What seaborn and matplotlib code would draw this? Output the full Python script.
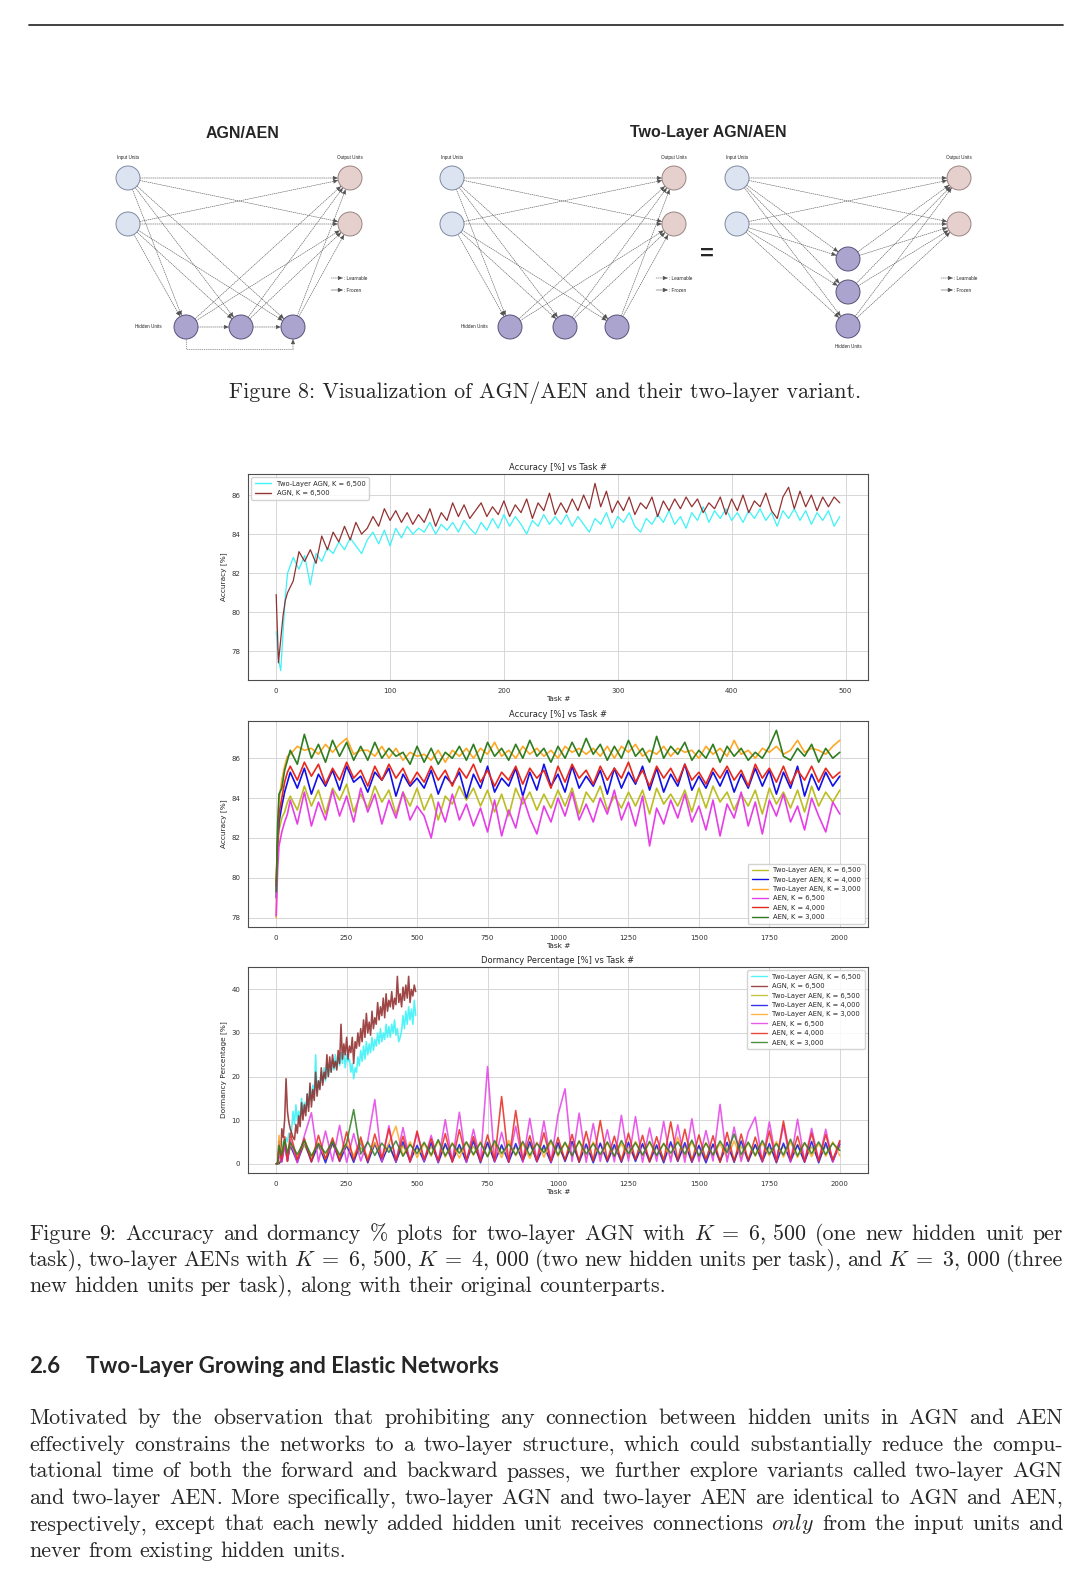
import re
import pandas as pd
import seaborn as sns
import matplotlib.pyplot as plt
from matplotlib.patches import Circle

# ---------------- data ----------------
TASKS_500 = [0, 2, 4, 6, 8] + list(range(10, 500, 5))
TASKS_2000 = [0, 5, 10, 20, 30, 40] + list(range(50, 2001, 25))

# Accuracy [%], first run of 500 tasks
ACC_TL_AGN = [79.0, 77.6, 77.0, 78.9, 80.8,
              82.0, 82.8, 82.2, 82.9, 81.4, 83.0, 82.6, 83.3, 83.0, 83.6,
              83.2, 83.8, 83.4, 83.0, 83.7, 84.1, 83.5, 84.2, 83.4, 84.3,
              83.8, 84.4, 84.0, 84.3, 84.1, 84.6, 84.0, 84.5, 84.2, 84.6,
              84.1, 84.7, 84.3, 84.0, 84.6, 84.2, 84.8, 84.3, 85.0, 84.4,
              84.9, 84.5, 84.0, 84.7, 84.4, 85.0, 84.5, 84.9, 84.5, 85.0,
              84.4, 84.9, 84.5, 84.1, 84.8, 84.5, 85.1, 84.3, 84.9, 84.6,
              85.1, 84.4, 84.1, 84.8, 84.5, 85.0, 84.6, 85.2, 84.5, 84.9,
              84.3, 85.1, 84.7, 85.4, 84.6, 85.2, 84.8, 85.3, 84.7, 85.1,
              84.6, 85.2, 84.8, 85.3, 84.7, 85.1, 84.4, 85.2, 84.8, 85.3,
              84.7, 85.2, 84.5, 85.1, 84.7, 85.2, 84.4, 84.9]
ACC_AGN = [80.9, 77.4, 78.6, 79.8, 80.6,
           81.0, 81.6, 83.1, 82.6, 83.2, 82.5, 83.9, 83.2, 84.1, 83.6,
           84.4, 83.7, 84.6, 84.0, 84.3, 84.9, 84.4, 85.3, 84.7, 85.2,
           84.6, 85.1, 84.5, 85.0, 84.6, 85.3, 84.4, 85.1, 84.7, 85.6,
           84.9, 85.5, 84.8, 85.2, 85.6, 84.9, 85.4, 85.0, 85.7, 84.9,
           85.5, 85.1, 85.8, 84.8, 85.6, 85.2, 86.1, 85.0, 85.6, 85.1,
           85.8, 85.2, 86.0, 85.3, 86.6, 85.4, 86.2, 85.1, 85.7, 85.2,
           85.9, 85.0, 85.6, 85.3, 85.9, 84.9, 85.7, 85.2, 85.8, 85.3,
           85.9, 85.4, 85.8, 85.1, 85.6, 85.3, 85.9, 85.0, 85.8, 85.2,
           86.0, 85.1, 85.7, 85.4, 86.1, 85.2, 84.8, 85.9, 86.4, 85.3,
           86.2, 85.4, 86.0, 85.2, 85.9, 85.4, 85.9, 85.6]

# Accuracy [%], 2000 tasks (rows: 0..100, then 125..200, 225..300, ...)
ACC_TL_AEN_6500 = [79.8, 81.5, 82.4, 83.0, 83.3, 83.8, 84.1, 83.4, 84.6,
                   83.6, 84.4, 83.2, 84.5, 83.9, 84.7, 83.3, 84.2,
                   83.5, 84.6, 83.8, 84.4, 83.2, 84.3, 83.6, 84.5,
                   83.4, 84.2, 82.9, 84.1, 83.7, 84.6, 83.9, 84.5,
                   83.6, 84.4, 83.3, 84.2, 83.1, 84.5, 83.7, 84.3,
                   83.4, 84.2, 83.5, 84.4, 83.6, 84.5, 83.2, 84.3,
                   83.8, 84.6, 83.4, 84.1, 83.5, 84.3, 83.6, 84.4,
                   83.2, 84.5, 83.7, 84.2, 83.6, 84.4, 83.3, 84.5,
                   83.5, 84.6, 83.8, 84.3, 83.4, 84.2, 83.6, 84.4,
                   83.2, 84.5, 83.7, 84.3, 83.5, 84.4, 83.3, 84.6,
                   83.6, 84.3, 83.8, 84.4]
ACC_TL_AEN_4000 = [79.0, 81.6, 82.8, 83.6, 84.3, 84.8, 85.3, 84.5, 85.5,
                   84.2, 85.2, 84.6, 85.4, 84.4, 85.6, 84.8, 85.1,
                   84.3, 85.3, 84.9, 85.5, 84.1, 85.2, 84.6, 85.0,
                   84.5, 85.4, 84.2, 85.1, 84.7, 85.3, 84.0, 85.2,
                   84.5, 85.6, 84.3, 85.0, 84.6, 85.5, 84.1, 85.3,
                   84.4, 85.7, 84.6, 85.2, 84.3, 85.6, 84.5, 85.1,
                   84.6, 85.4, 84.2, 85.5, 84.5, 85.3, 84.7, 85.6,
                   84.4, 85.5, 84.3, 85.2, 84.6, 85.7, 84.4, 85.1,
                   84.5, 85.3, 84.6, 85.4, 84.3, 85.2, 84.5, 85.5,
                   84.6, 85.4, 84.2, 85.3, 84.5, 85.6, 84.1, 85.2,
                   84.4, 85.3, 84.6, 85.1]
ACC_TL_AEN_3000 = [78.0, 81.8, 83.9, 84.9, 85.6, 86.1, 86.2, 86.6, 86.4,
                   86.5, 86.2, 86.7, 86.3, 86.7, 87.0, 86.2, 86.4,
                   86.4, 86.1, 86.6, 86.0, 86.5, 85.9, 86.3, 86.1,
                   86.2, 85.9, 86.4, 85.8, 86.4, 86.1, 86.5, 86.0,
                   86.5, 86.2, 86.8, 86.1, 86.4, 86.0, 86.6, 86.2,
                   86.5, 86.1, 86.4, 86.0, 86.6, 86.3, 86.5, 86.2,
                   86.5, 86.1, 86.6, 86.0, 86.6, 86.3, 86.7, 86.1,
                   86.4, 86.2, 86.6, 86.1, 86.5, 86.3, 86.4, 86.0,
                   86.6, 86.2, 86.5, 86.1, 86.9, 86.2, 86.4, 86.0,
                   86.5, 86.3, 86.6, 86.2, 86.4, 86.9, 86.3, 86.5,
                   86.4, 86.2, 86.6, 86.9]
ACC_AEN_6500 = [78.1, 80.4, 81.6, 82.3, 82.8, 83.2, 83.9, 82.7, 84.3,
                82.6, 83.8, 82.9, 84.4, 83.1, 84.1, 82.8, 84.5,
                83.3, 84.2, 82.7, 83.9, 83.0, 84.3, 82.9, 83.6,
                83.1, 82.0, 83.8, 82.8, 84.2, 82.9, 83.7, 82.6,
                83.5, 82.3, 83.9, 82.1, 83.4, 82.5, 84.1, 83.0,
                82.2, 83.6, 82.8, 84.0, 83.1, 84.3, 82.9, 83.7,
                82.8, 84.0, 83.2, 84.4, 82.9, 83.8, 82.6, 84.1,
                81.6, 83.5, 82.7, 83.9, 83.0, 84.2, 82.8, 83.6,
                82.4, 83.9, 82.1, 83.7, 83.0, 84.3, 82.6, 83.8,
                82.2, 83.9, 83.1, 84.2, 82.8, 83.6, 82.4, 84.0,
                83.1, 82.3, 83.8, 83.2]
ACC_AEN_4000 = [79.6, 82.0, 83.2, 84.0, 84.8, 85.3, 85.6, 84.9, 85.8,
                85.1, 85.7, 84.7, 85.5, 84.9, 85.8, 85.0, 85.4,
                84.6, 85.6, 84.9, 85.7, 85.0, 85.5, 84.7, 85.3,
                84.8, 85.6, 84.9, 85.4, 84.6, 85.5, 85.0, 85.7,
                84.8, 85.4, 84.6, 85.3, 84.9, 85.6, 84.7, 85.5,
                85.0, 85.4, 84.5, 85.6, 84.8, 85.7, 85.0, 85.4,
                84.7, 85.6, 84.9, 85.5, 85.0, 85.8, 84.8, 85.4,
                84.6, 85.6, 85.0, 85.5, 84.8, 85.7, 84.9, 85.3,
                84.7, 85.5, 85.0, 85.6, 84.9, 85.4, 84.6, 85.7,
                85.0, 85.5, 84.8, 85.6, 84.7, 85.4, 84.9, 85.6,
                84.8, 85.5, 85.0, 85.3]
ACC_AEN_3000 = [79.3, 82.6, 84.2, 84.5, 85.4, 85.9, 86.4, 85.7, 87.2,
                86.0, 86.7, 85.8, 86.9, 86.1, 86.8, 85.9, 86.6,
                85.9, 86.8, 86.0, 86.5, 86.1, 86.3, 85.7, 86.6,
                85.8, 86.5, 85.7, 86.3, 86.0, 86.6, 85.9, 86.7,
                85.8, 86.8, 86.1, 86.5, 85.9, 86.7, 86.0, 86.9,
                86.1, 86.5, 85.8, 86.6, 86.0, 86.8, 86.1, 87.0,
                86.2, 86.7, 85.9, 86.6, 86.0, 86.9, 86.1, 86.5,
                85.8, 87.1, 86.0, 86.6, 86.2, 86.8, 85.9, 86.4,
                86.0, 86.7, 85.8, 86.6, 86.1, 86.5, 85.9, 86.3,
                86.0, 86.6, 87.4, 86.1, 85.9, 86.5, 86.1, 86.7,
                85.8, 86.5, 86.0, 86.3]

# Dormancy percentage [%]
DOR_TL_AGN = [0, 0, 0, 0, 0,
              0, 0.3, 3, 5, 4, 6, 5, 7, 6, 8,
              12, 9, 13.5, 10, 12, 10.5, 15, 11.5, 14, 12,
              16, 13, 17.5, 14.5, 18, 16, 25, 16.5, 19, 17.5,
              21, 18.5, 22, 19, 23, 20, 22.5, 21, 24, 21.5,
              25, 22, 24.5, 22.5, 25.5, 23, 26, 22, 25, 23.5,
              24, 21, 23, 19.5, 22, 21, 24.5, 22.5, 26, 23.5,
              27, 24, 28, 25, 27.5, 25.5, 29, 26, 28.5, 27,
              30, 27.5, 31, 28, 30, 28.5, 32, 29, 31.5, 29,
              32, 30, 33, 29.5, 31, 28, 29, 30.5, 34, 31,
              35, 32, 36, 33, 35.5, 32, 37.5, 34]
DOR_AGN = [0, 0, 0, 0, 0,
           0, 0.5, 8, 6, 10, 19.5, 12, 9.5, 8, 7,
           6, 5.5, 9, 7, 11, 8.5, 14, 10, 13.5, 11,
           16, 12, 18.5, 13, 17, 14.5, 21, 15.5, 19, 17,
           22, 18, 21, 19.5, 25, 20, 24.5, 21, 25, 22,
           23.5, 21.5, 26, 23, 32, 24, 27.5, 25, 29, 24,
           27, 25.5, 29, 23, 28, 26.5, 30, 27, 31, 28,
           33, 29, 34.5, 30, 32.5, 29.5, 35, 31, 33.5, 32,
           37, 33, 36, 34, 38, 33.5, 39, 35, 37.5, 36,
           39.5, 35.5, 38, 36.5, 43, 37, 39, 36, 40.5, 37.5,
           41, 38, 43, 37, 40, 38.5, 41, 39.5]
DOR_TL_AEN_6500 = [0.0, 0.0, 3.0, 1.0, 4.5, 1.2, 3.8, 0.9, 4.2,
                   1.1, 3.9, 0.8, 4.4, 1.3, 4.0, 0.9, 3.7,
                   1.0, 4.3, 1.2, 3.8, 0.8, 4.1, 1.1, 3.6,
                   1.2, 3.9, 0.9, 4.2, 1.0, 3.7, 1.3, 4.0,
                   0.9, 4.4, 1.0, 3.8, 1.1, 4.0, 0.8, 4.3,
                   1.2, 3.6, 1.0, 4.1, 0.9, 4.2, 1.1, 3.9,
                   1.0, 4.5, 0.8, 3.7, 1.3, 4.0, 0.9, 4.2,
                   1.1, 3.8, 1.2, 4.4, 0.8, 4.1, 1.0, 3.9,
                   1.2, 4.3, 0.9, 3.6, 1.0, 4.0, 1.1, 4.2,
                   0.9, 3.8, 1.3, 4.1, 1.1, 4.4, 0.8, 3.9,
                   1.0, 4.1, 1.2, 3.8]
DOR_TL_AEN_4000 = [0.0, 0.0, 5.2, 0.5, 4.8, 0.6, 4.4, 0.3, 5.0,
                   0.4, 4.6, 0.2, 4.9, 0.5, 4.3, 0.3, 5.1,
                   0.2, 4.7, 0.4, 4.5, 0.3, 5.0, 0.5, 4.2,
                   0.4, 4.8, 0.2, 4.6, 0.5, 4.4, 0.3, 5.2,
                   0.2, 4.9, 0.4, 4.3, 0.3, 4.6, 0.5, 5.0,
                   0.4, 4.2, 0.2, 4.8, 0.5, 5.1, 0.3, 4.5,
                   0.2, 4.7, 0.4, 4.4, 0.3, 4.9, 0.5, 4.6,
                   0.4, 4.3, 0.2, 5.0, 0.5, 4.8, 0.3, 4.2,
                   0.2, 4.5, 0.4, 4.9, 0.3, 5.2, 0.5, 4.4,
                   0.4, 4.6, 0.2, 4.7, 0.5, 4.3, 0.3, 5.1,
                   0.2, 4.8, 0.4, 4.5]
DOR_TL_AEN_3000 = [0.0, 0.0, 6.5, 1.5, 5.2, 1.8, 4.6, 1.4, 5.0,
                   1.7, 4.8, 1.2, 5.3, 1.6, 4.5, 1.9, 5.1,
                   1.3, 4.9, 1.5, 4.7, 8.6, 1.8, 5.0, 1.4,
                   4.6, 1.7, 5.2, 1.5, 4.8, 1.3, 4.9, 1.9,
                   5.1, 1.6, 4.7, 1.4, 5.3, 1.8, 4.6, 1.2,
                   4.9, 1.5, 5.0, 1.7, 4.7, 1.9, 5.2, 1.3,
                   5.0, 1.6, 4.8, 1.5, 4.6, 1.4, 5.1, 1.8,
                   4.9, 1.7, 4.7, 1.3, 6.1, 1.5, 5.0, 1.6,
                   4.8, 1.9, 4.6, 1.4, 5.2, 1.3, 4.9, 1.7,
                   4.7, 1.8, 5.1, 1.5, 5.0, 1.4, 4.8, 1.6,
                   4.6, 1.7, 5.0, 1.8]
DOR_AEN_6500 = [0.0, 0.0, 2.0, 0.3, 4.0, 0.6, 5.5, 0.2, 6.4,
                11.7, 0.4, 7.5, 0.5, 8.8, 0.3, 6.9, 0.6,
                5.2, 14.7, 0.4, 8.7, 0.5, 8.3, 0.3, 7.1,
                0.6, 6.5, 0.4, 10.1, 0.5, 11.8, 0.3, 7.9,
                0.6, 22.3, 0.4, 7.2, 0.5, 8.6, 0.3, 10.4,
                0.6, 9.8, 0.4, 11.2, 17.2, 0.5, 11.6, 0.3,
                9.2, 0.5, 7.8, 0.4, 11.1, 0.6, 10.8, 0.3,
                8.2, 0.5, 9.7, 0.4, 8.9, 0.3, 10.3, 0.5,
                7.6, 0.6, 13.6, 0.4, 8.4, 0.5, 7.3, 10.7,
                0.4, 9.6, 0.6, 8.8, 0.3, 10.2, 0.5, 8.1,
                0.6, 7.9, 0.4, 5.0]
DOR_AEN_4000 = [0.0, 0.0, 3.5, 0.8, 6.2, 0.5, 7.0, 0.9, 5.8,
                0.4, 6.5, 1.0, 5.9, 0.6, 7.3, 0.8, 6.1,
                0.5, 6.8, 1.1, 8.0, 0.7, 6.3, 0.4, 7.5,
                0.9, 5.7, 0.6, 6.9, 0.3, 7.8, 0.8, 6.2,
                0.5, 6.6, 0.7, 15.4, 0.4, 12.2, 0.9, 6.4,
                0.6, 7.1, 0.5, 6.0, 0.8, 6.7, 0.4, 7.4,
                0.6, 9.9, 0.7, 6.3, 0.5, 7.0, 0.9, 6.5,
                0.4, 6.2, 0.6, 9.6, 0.7, 7.9, 0.5, 6.6,
                0.8, 6.4, 0.3, 7.2, 0.5, 6.8, 0.7, 6.1,
                0.6, 7.5, 0.4, 9.8, 0.9, 6.3, 0.5, 7.0,
                0.6, 6.7, 0.8, 5.3]
DOR_AEN_3000 = [0.0, 0.0, 4.2, 2.0, 5.6, 2.5, 4.9, 2.1, 5.3,
                1.8, 4.6, 2.4, 5.1, 2.0, 4.8, 12.4, 2.2,
                5.0, 1.9, 4.7, 2.6, 5.2, 1.7, 4.4, 2.3,
                4.9, 2.0, 5.5, 1.8, 4.6, 2.4, 5.0, 2.1,
                4.8, 1.6, 5.3, 2.3, 4.5, 2.0, 5.1, 1.9,
                4.7, 2.5, 5.4, 2.0, 4.9, 1.8, 5.2, 2.2,
                4.6, 2.1, 5.0, 1.7, 5.3, 2.3, 4.8, 2.0,
                5.1, 1.9, 4.6, 2.4, 5.0, 2.2, 5.4, 1.8,
                4.7, 2.0, 5.2, 2.5, 6.8, 2.1, 4.9, 1.9,
                5.3, 2.2, 4.6, 2.0, 5.6, 1.8, 4.8, 2.3,
                5.0, 2.1, 4.7, 3.0]

LABELS = {
    "tl_agn": "Two-Layer AGN, K = 6,500",
    "agn": "AGN, K = 6,500",
    "tl_6500": "Two-Layer AEN, K = 6,500",
    "tl_4000": "Two-Layer AEN, K = 4,000",
    "tl_3000": "Two-Layer AEN, K = 3,000",
    "aen_6500": "AEN, K = 6,500",
    "aen_4000": "AEN, K = 4,000",
    "aen_3000": "AEN, K = 3,000",
}
COLORS = {
    "tl_agn": "#33f2f7", "agn": "#8e2626", "tl_6500": "#bcbd22",
    "tl_4000": "#1010e8", "tl_3000": "#ffa726", "aen_6500": "#e63ee6",
    "aen_4000": "#e8281c", "aen_3000": "#2f7d20",
}

CAPTION_8 = "Figure 8: Visualization of AGN/AEN and their two-layer variant."
CAPTION_9 = [
    r"Figure 9: Accuracy and dormancy % plots for two-layer AGN with $K\;=\;6,\,500$ (one new hidden unit per",
    r"task), two-layer AENs with $K\;=\;6,\,500$, $K\;=\;4,\,000$ (two new hidden units per task), and $K\;=\;3,\,000$ (three",
    r"new hidden units per task), along with their original counterparts.",
]
BODY = [
    r"Motivated by the observation that prohibiting any connection between hidden units in AGN and AEN",
    r"effectively constrains the networks to a two-layer structure, which could substantially reduce the compu-",
    r"tational time of both the forward and backward passes, we further explore variants called two-layer AGN",
    r"and two-layer AEN. More specifically, two-layer AGN and two-layer AEN are identical to AGN and AEN,",
    r"respectively, except that each newly added hidden unit receives connections $\mathit{only}$ from the input units and",
    r"never from existing hidden units.",
]

# ---------------- style ----------------
sns.set_style("whitegrid", {"axes.edgecolor": "0.3", "grid.color": "0.84"})
plt.rcParams["font.family"] = ["DejaVu Sans"]
plt.rcParams["mathtext.fontset"] = "cm"

W, H = 1080, 1574
fig = plt.figure(figsize=(W / 100, H / 100), dpi=100)
page = fig.add_axes([0, 0, 1, 1])
page.set_xlim(0, W)
page.set_ylim(H, 0)
page.axis("off")
renderer = fig.canvas.get_renderer()

SERIF = "cmr10"
BODY_PT = 15.8
X0, X1 = 29, 1063

page.plot([X0, X1], [25, 25], color="#333333", lw=1.3)

# ---------------- network diagrams ----------------
R = 12


def node(x, y, fc, ec):
    page.add_patch(Circle((x, y), R, fc=fc, ec=ec, lw=0.7, zorder=3))


def arrow(p, q, dashed=True, shrink=8.6):
    page.annotate("", xy=q, xytext=p, zorder=2,
                  arrowprops=dict(arrowstyle="-|>,head_length=0.3,head_width=0.13",
                                  color="#505050", lw=0.4,
                                  ls=(0, (2.2, 1.6)) if dashed else "-",
                                  shrinkA=shrink, shrinkB=shrink))


def small(x, y, s, ha="center"):
    page.text(x, y, s, fontsize=3.3, ha=ha, va="center", family="Liberation Sans", color="#222")


def network(inp, out, hid, legend_x, hid_label):
    for a in inp:
        for b in out:
            arrow(a, b)
        for h in hid:
            arrow(a, h)
    for h in hid:
        for b in out:
            arrow(h, b)
    for p in inp:
        node(*p, "#dbe4f0", "#7f8aa0")
    for p in out:
        node(*p, "#e6d0cd", "#9a8480")
    for p in hid:
        node(*p, "#aaa4cf", "#56527a")
    small(inp[0][0], 158, "Input Units")
    small(out[0][0], 158, "Output Units")
    small(*hid_label, "Hidden Units")
    arrow((legend_x, 278), (legend_x + 12, 278), shrink=0)
    arrow((legend_x, 290), (legend_x + 12, 290), dashed=False, shrink=0)
    small(legend_x + 13, 278, ": Learnable", ha="left")
    small(legend_x + 13, 290, ": Frozen", ha="left")


# AGN/AEN
hid1 = [(186, 327), (241, 327), (293, 327)]
network([(128, 178), (128, 224)], [(350, 178), (350, 224)], hid1, 331, (148, 327))
arrow(hid1[0], hid1[1])
arrow(hid1[1], hid1[2])
page.plot([186, 186, 293], [339, 349, 349], color="#505050", lw=0.4, ls=(0, (2.2, 1.6)))
arrow((293, 349), (293, 339), shrink=0)

# two-layer, drawn flat and stacked
network([(452, 178), (452, 224)], [(674, 178), (674, 224)],
        [(510, 327), (565, 327), (617, 327)], 656, (474, 327))
network([(737, 178), (737, 224)], [(959, 178), (959, 224)],
        [(848, 259), (848, 292), (848, 326)], 941, (848, 347))
page.text(707, 254, "=", fontsize=17, weight="bold", ha="center", va="center",
          family="Liberation Sans")

page.text(243, 133, "AGN/AEN", fontsize=11.5, weight="bold", ha="center", va="center",
          family="Liberation Sans")
page.text(708, 133, "Two-Layer AGN/AEN", fontsize=11.5, weight="bold", ha="center",
          va="center", family="Liberation Sans")

page.text(545, 398, CAPTION_8, family=SERIF, fontsize=BODY_PT, ha="center", va="baseline")


# ---------------- charts ----------------
def chart_axes(top, bottom):
    left, right = 248, 868
    return fig.add_axes([left / W, 1 - bottom / H, (right - left) / W, (bottom - top) / H])


def panel(ax, series, title, ylabel, yticks, xticks, loc, alpha, lw):
    for tasks, vals, key in series:
        df = pd.DataFrame({"task": tasks, "value": vals})
        sns.lineplot(data=df, x="task", y="value", ax=ax, color=COLORS[key],
                     label=LABELS[key], lw=lw, alpha=alpha, estimator=None)
    ax.set_title(title, fontsize=6, pad=3)
    ax.set_ylabel(ylabel, fontsize=5.3, labelpad=3)
    ax.set_xlabel("Task #", fontsize=5.3, labelpad=1.5)
    ax.set_xticks(xticks)
    ax.set_yticks(yticks)
    ax.tick_params(labelsize=5, pad=2, colors="#333333")
    for sp in ax.spines.values():
        sp.set_linewidth(0.8)
    ax.grid(True, lw=0.7)
    leg = ax.legend(loc=loc, fontsize=4.9, frameon=True, framealpha=0.85, edgecolor="#cccccc",
                    handlelength=2.4, labelspacing=0.5, borderpad=0.5, fancybox=True)
    for h in leg.get_lines():
        h.set_linewidth(1.0)


ax1 = chart_axes(474, 680)
panel(ax1, [(TASKS_500, ACC_TL_AGN, "tl_agn"), (TASKS_500, ACC_AGN, "agn")],
      "Accuracy [%] vs Task #", "Accuracy [%]", [78, 80, 82, 84, 86],
      range(0, 501, 100), "upper left", 0.95, 0.9)

aen_acc = [(TASKS_2000, ACC_TL_AEN_6500, "tl_6500"), (TASKS_2000, ACC_TL_AEN_4000, "tl_4000"),
           (TASKS_2000, ACC_TL_AEN_3000, "tl_3000"), (TASKS_2000, ACC_AEN_6500, "aen_6500"),
           (TASKS_2000, ACC_AEN_4000, "aen_4000"), (TASKS_2000, ACC_AEN_3000, "aen_3000")]
ax2 = chart_axes(721, 927)
panel(ax2, aen_acc, "Accuracy [%] vs Task #", "Accuracy [%]", [78, 80, 82, 84, 86],
      range(0, 2001, 250), "lower right", 1.0, 1.2)

dorm = [(TASKS_500, DOR_TL_AGN, "tl_agn"), (TASKS_500, DOR_AGN, "agn"),
        (TASKS_2000, DOR_TL_AEN_6500, "tl_6500"), (TASKS_2000, DOR_TL_AEN_4000, "tl_4000"),
        (TASKS_2000, DOR_TL_AEN_3000, "tl_3000"), (TASKS_2000, DOR_AEN_6500, "aen_6500"),
        (TASKS_2000, DOR_AEN_4000, "aen_4000"), (TASKS_2000, DOR_AEN_3000, "aen_3000")]
ax3 = chart_axes(967, 1173)
panel(ax3, dorm, "Dormancy Percentage [%] vs Task #", "Dormancy Percentage [%]",
      [0, 10, 20, 30, 40], range(0, 2001, 250), "upper right", 0.85, 1.15)


# ---------------- justified text ----------------
def text_line(line, y, justify=True):
    toks = re.findall(r"\$[^$]*\$\S*|\S+", line)
    items = [page.text(0, y, t, family=SERIF, fontsize=BODY_PT, va="baseline") for t in toks]
    widths = [t.get_window_extent(renderer).width for t in items]
    if justify and len(items) > 1:
        gap = (X1 - X0 - sum(widths)) / (len(items) - 1)
    else:
        gap = BODY_PT * 100 / 72 * 0.333
    x = X0
    for t, w in zip(items, widths):
        t.set_x(x)
        x += w + gap


for i, line in enumerate(CAPTION_9):
    text_line(line, 1240 + i * 26, justify=i < len(CAPTION_9) - 1)

page.text(X0, 1373, "2.6", family="Lato", weight="bold", fontsize=16, va="baseline")
page.text(86, 1373, "Two-Layer Growing and Elastic Networks", family="Lato",
          weight="bold", fontsize=16, va="baseline")

for i, line in enumerate(BODY):
    text_line(line, 1424 + i * 26.6, justify=i < len(BODY) - 1)

fig.savefig("out.png", dpi=100)
